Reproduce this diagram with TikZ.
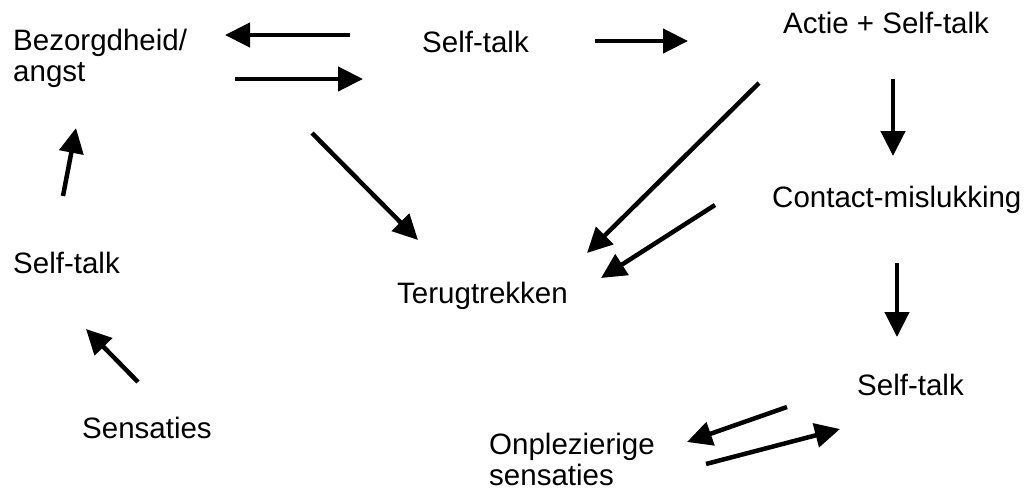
\documentclass[tikz,border=0pt]{standalone}
\usepackage{fontspec}
\setmainfont{Liberation Sans}
\usetikzlibrary{arrows.meta}
\begin{document}
\begin{tikzpicture}[x=1pt,y=-1pt,
  lbl/.style={anchor=base west,inner sep=0pt,align=left,
    font=\fontsize{29.5}{31}\selectfont},
  arr/.style={line width=4.5pt,-{Triangle[length=25pt,width=24pt]}}]
\useasboundingbox (0,0) rectangle (1029,491);
% labels (multi-line nodes: base = last line)
\node[lbl] (bez) at (13,81) {Bezorgdheid/\\angst};
\node[lbl] (st1) at (422,52) {Self-talk};
\node[lbl] (act) at (783,33) {Actie + Self-talk};
\node[lbl] (con) at (772,207) {Contact-mislukking};
\node[lbl] (st2) at (13,273) {Self-talk};
\node[lbl] (ter) at (397,303) {Terugtrekken};
\node[lbl] (st3) at (857,395) {Self-talk};
\node[lbl] (sen) at (82,438) {Sensaties};
\node[lbl] (onp) at (489,485) {Onplezierige\\sensaties};
% arrow end points
\coordinate (a1s) at (350,35);  \coordinate (a1e) at (225,35);
\coordinate (a2s) at (235,79);  \coordinate (a2e) at (363,79);
\coordinate (a3s) at (595,41);  \coordinate (a3e) at (688,41);
\coordinate (a4s) at (893,79);  \coordinate (a4e) at (893,156);
\coordinate (a5s) at (897,263); \coordinate (a5e) at (897,337);
\coordinate (a6s) at (759,83);  \coordinate (a6e) at (587,253);
\coordinate (a7s) at (715,205); \coordinate (a7e) at (601,278);
\coordinate (a8s) at (312,133); \coordinate (a8e) at (418,240);
\coordinate (a9s) at (63,196);  \coordinate (a9e) at (76,128);
\coordinate (a10s) at (138,382); \coordinate (a10e) at (86,329);
\coordinate (a11s) at (787,407); \coordinate (a11e) at (687,442);
\coordinate (a12s) at (706,464); \coordinate (a12e) at (840,429);
% arrows
\draw[arr] (a1s) -- (a1e);
\draw[arr] (a2s) -- (a2e);
\draw[arr] (a3s) -- (a3e);
\draw[arr] (a4s) -- (a4e);
\draw[arr] (a5s) -- (a5e);
\draw[arr] (a6s) -- (a6e);
\draw[arr] (a7s) -- (a7e);
\draw[arr] (a8s) -- (a8e);
\draw[arr] (a9s) -- (a9e);
\draw[arr] (a10s) -- (a10e);
\draw[arr] (a11s) -- (a11e);
\draw[arr] (a12s) -- (a12e);
\end{tikzpicture}
\end{document}
